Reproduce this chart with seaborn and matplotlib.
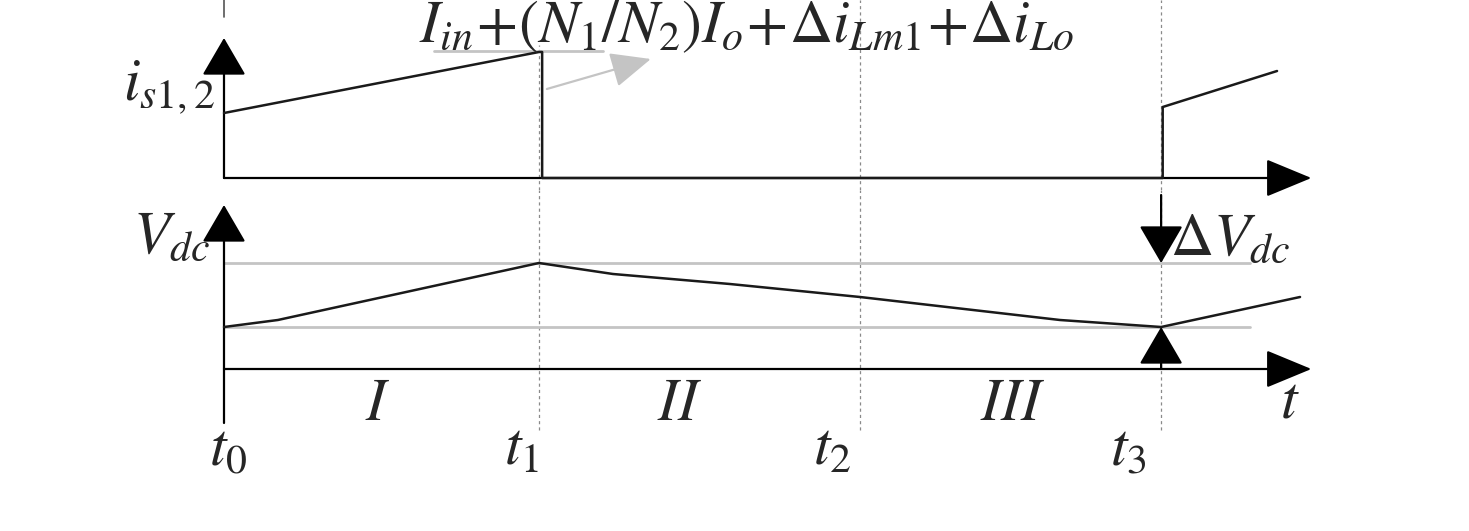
import seaborn as sns
import matplotlib.pyplot as plt
import pandas as pd

# ----------------------------
# Data (time in units of t1 - t0)
# ----------------------------
t_marks = [0.0, 1.0, 2.02, 2.975]
t_labels = ["$t_0$", "$t_1$", "$t_2$", "$t_3$"]
interval_pos = [0.489, 1.448, 2.502]
interval_labels = ["$I$", "$II$", "$III$"]

# switch current i_s1,2
is_t = [0.0, 1.0, 1.01, 1.01, 2.98, 2.98, 3.343]
is_v = [0.65, 1.26, 1.26, 0.0, 0.0, 0.71, 1.07]

# dc link voltage
vdc_t = [0.0, 0.171, 1.0, 1.235, 1.606, 2.019, 2.654, 2.975, 3.416]
vdc_v = [0.42, 0.49, 1.06, 0.95, 0.85, 0.72, 0.49, 0.42, 0.72]
vdc_hi = 1.06
vdc_lo = 0.42

peak_label = r"$I_{in}\!+\!(N_1/N_2)I_o\!+\!\Delta i_{Lm1}\!+\!\Delta i_{Lo}$"

df_is = pd.DataFrame({"t": is_t, "i": is_v})
df_vdc = pd.DataFrame({"t": vdc_t, "v": vdc_v})

# ----------------------------
# Figure
# ----------------------------
sns.set_theme(style="white")
plt.rcParams["mathtext.fontset"] = "stix"
plt.rcParams["font.family"] = ["STIXGeneral", "DejaVu Serif"]

fig = plt.figure(figsize=(14.69, 5.31), dpi=100)
ax_i = fig.add_axes([0, 341 / 531, 1, 190 / 531])
ax_v = fig.add_axes([0, 0, 1, 341 / 531])

xlim = (-0.7111, 3.9524)
ax_i.set_xlim(xlim)
ax_i.set_ylim(-0.12, 1.78)
ax_v.set_xlim(xlim)
ax_v.set_ylim(-1.62, 1.79)
for ax in (ax_i, ax_v):
    ax.set_axis_off()

FS = 43
dot_kw = dict(color="#8a8a8a", lw=0.9, ls=(0, (2.5, 2.5)), zorder=1)
arr = dict(color="black", lw=1.6, shrinkA=0, shrinkB=0, mutation_scale=1)
h_head = "-|>,head_length=29,head_width=12"
v_head = "-|>,head_length=24,head_width=14"

# dotted time markers
for tm in t_marks[1:]:
    top = (190 - 45) / 190 if tm == t_marks[1] else 1
    ax_i.axvline(tm, ymin=0, ymax=top, **dot_kw)
    ax_v.axvline(tm, ymin=(531 - 430) / 341, ymax=1, **dot_kw)
ax_i.axvline(0, ymin=(190 - 17) / 190, ymax=1, color="#555555", lw=1.2)

# ----------------------------
# Upper panel: i_s1,2
# ----------------------------
ax_i.annotate("", xy=(3.452, 0), xytext=(0, 0),
              arrowprops=dict(arrowstyle=h_head, **arr))
ax_i.annotate("", xy=(0, 1.40), xytext=(0, 0),
              arrowprops=dict(arrowstyle=v_head, **arr))
sns.lineplot(data=df_is, x="t", y="i", ax=ax_i, estimator=None, sort=False,
             color="#1a1a1a", lw=1.8, zorder=3)

# gray pointer to the peak value
ax_i.plot([0.667, 1.203], [1.27, 1.27], color="#c4c4c4", lw=2, zorder=2)
ax_i.annotate("", xy=(1.355, 1.19), xytext=(1.025, 0.89),
              arrowprops=dict(arrowstyle="-|>,head_length=25,head_width=11",
                              color="#c4c4c4", lw=1.6, shrinkA=0, shrinkB=0,
                              mutation_scale=1))
ax_i.text(1.66, 1.36, peak_label, fontsize=FS, ha="center", va="baseline")
ax_i.text(-0.029, 0.78, r"$i_{s1,2}$", fontsize=FS, ha="right", va="baseline")

# ----------------------------
# Lower panel: V_dc
# ----------------------------
ax_v.plot([0, 0], [-0.54, 0], color="black", lw=1.6)
ax_v.annotate("", xy=(3.452, 0), xytext=(0, 0),
              arrowprops=dict(arrowstyle=h_head, **arr))
ax_v.annotate("", xy=(0, 1.64), xytext=(0, 0),
              arrowprops=dict(arrowstyle=v_head, **arr))
for lvl in (vdc_hi, vdc_lo):
    ax_v.plot([0, 3.257], [lvl, lvl], color="#c4c4c4", lw=2, zorder=2)
sns.lineplot(data=df_vdc, x="t", y="v", ax=ax_v, estimator=None, sort=False,
             color="#1a1a1a", lw=1.8, zorder=3)

# ripple arrows
ax_v.annotate("", xy=(t_marks[3], vdc_hi), xytext=(t_marks[3], 1.74),
              arrowprops=dict(arrowstyle=v_head, **arr))
ax_v.annotate("", xy=(t_marks[3], vdc_lo), xytext=(t_marks[3], 0),
              arrowprops=dict(arrowstyle=v_head, **arr))
ax_v.text(3.003, 1.14, r"$\Delta V_{dc}$", fontsize=FS, ha="left", va="baseline")
ax_v.text(-0.044, 1.16, r"$V_{dc}$", fontsize=FS, ha="right", va="baseline")

for x, lab in zip(interval_pos, interval_labels):
    ax_v.text(x, -0.51, lab, fontsize=FS, ha="center", va="baseline")
ax_v.text(3.384, -0.49, "$t$", fontsize=FS, ha="center", va="baseline")

t_text_x = [0.013, 0.946, 1.93, 2.87]
for x, lab in zip(t_text_x, t_labels):
    ax_v.text(x, -0.96, lab, fontsize=FS, ha="center", va="baseline")

fig.savefig("out.png", dpi=100)
